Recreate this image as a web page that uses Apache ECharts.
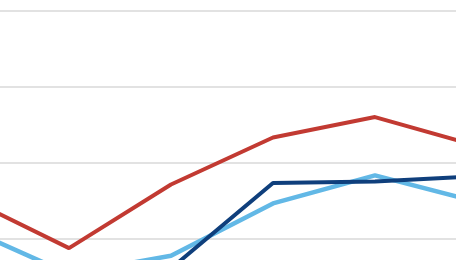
<!DOCTYPE html>
<html>
<head>
<meta charset="utf-8">
<script src="https://cdn.jsdelivr.net/npm/echarts@6/dist/echarts.min.js"></script>
<style>
html,body{margin:0;padding:0;background:#fff;overflow:hidden;width:456px;height:260px;position:relative}
#c{position:absolute;left:-33px;top:0;width:510px;height:314px}
</style>
</head>
<body>
<div id="c"></div>
<script>
const categories = ['P1', 'P2', 'P3', 'P4', 'P5', 'P6'];
const lightBlue = [11.3, 5.3, 7.7, 14.6, 18.3, 14.8];
const darkBlue = [3.0, 3.0, 6.0, 17.3, 17.5, 18.2];
const red = [15.3, 8.7, 17.1, 23.3, 26.0, 22.2];

const chart = echarts.init(document.getElementById('c'), null, {renderer: 'canvas'});
chart.setOption({
  animation: false,
  backgroundColor: '#ffffff',
  grid: {left: 0, right: 0, top: 11, bottom: 0, containLabel: false},
  xAxis: {
    type: 'category', data: categories, boundaryGap: false,
    axisLine: {show: false}, axisTick: {show: false}, axisLabel: {show: false},
    splitLine: {show: false}
  },
  yAxis: {
    type: 'value', min: 0, max: 40, interval: 10,
    axisLine: {show: false}, axisTick: {show: false}, axisLabel: {show: false},
    splitLine: {show: true, lineStyle: {color: '#d9d9d9', width: 1.5}}
  },
  series: [
    {type: 'line', data: lightBlue, symbol: 'none', lineStyle: {color: '#62b8e6', width: 4.5}, itemStyle: {color: '#62b8e6'}},
    {type: 'line', data: darkBlue, symbol: 'none', lineStyle: {color: '#0f3f7c', width: 4}, itemStyle: {color: '#0f3f7c'}},
    {type: 'line', data: red, symbol: 'none', lineStyle: {color: '#c23a32', width: 4}, itemStyle: {color: '#c23a32'}}
  ]
});
</script>
</body>
</html>
